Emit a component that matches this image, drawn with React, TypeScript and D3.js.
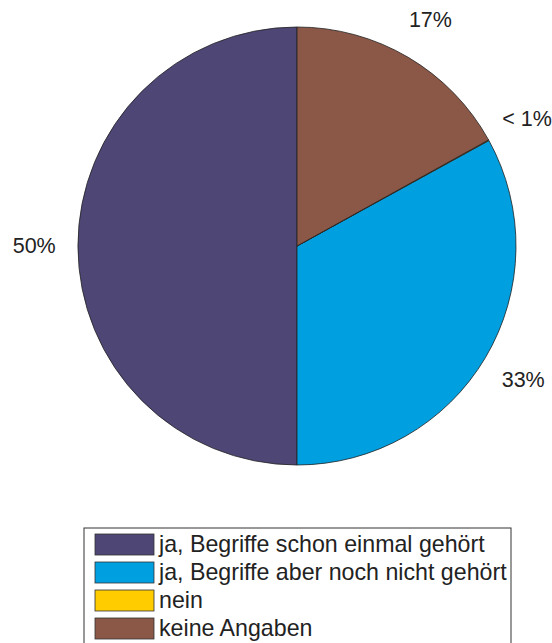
import React from "react";
import * as d3 from "d3";

const categories = [
  "ja, Begriffe schon einmal gehört",
  "ja, Begriffe aber noch nicht gehört",
  "nein",
  "keine Angaben",
];
const values = [50, 33, 0.05, 16.95];
const labels = ["50%", "33%", "< 1%", "17%"];
const colors = ["#4e4675", "#009fe0", "#ffcc00", "#8b5847"];

export default function App() {
  const W = 552, H = 643;
  const cx = 297, cy = 246, R = 219;
  const pie = d3.pie<number>().sort(null).startAngle(0).endAngle(-2 * Math.PI);
  const arcs = pie(values);
  const arc = d3.arc<d3.PieArcDatum<number>>().innerRadius(0).outerRadius(R);
  const font = "Arial, 'Liberation Sans', Helvetica, sans-serif";
  const legendX = 84, legendY = 528, rowH = 28;
  return (
    <svg width={W} height={H} style={{ position: "absolute", left: 0, top: 0 }}>
      <rect width={W} height={H} fill="#fff" />
      <g transform={`translate(${cx},${cy})`}>
        {arcs.map((a, i) => (
          <path key={i} d={arc(a) || ""} fill={colors[i]} stroke="#222" strokeWidth={0.8} />
        ))}
        {arcs.map((a, i) => {
          const m = (a.startAngle + a.endAngle) / 2;
          const x = Math.sin(m) * R * 1.2;
          const y = -Math.cos(m) * R * 1.2;
          return (
            <text key={i} x={x} y={y} textAnchor="middle" dominantBaseline="central"
              fontFamily={font} fontSize={21.5} fill="#222">{labels[i]}</text>
          );
        })}
      </g>
      <rect x={legendX} y={legendY} width={427} height={130} fill="#fff" stroke="#333" strokeWidth={1} />
      {categories.map((c, i) => (
        <g key={i} transform={`translate(${legendX + 11},${legendY + 6 + i * rowH})`}>
          <rect x={0} y={0} width={59} height={21} fill={colors[i]} stroke="#333" strokeWidth={0.8} />
          <text x={64} y={18} fontFamily={font} fontSize={23.2} fill="#222">{c}</text>
        </g>
      ))}
    </svg>
  );
}
